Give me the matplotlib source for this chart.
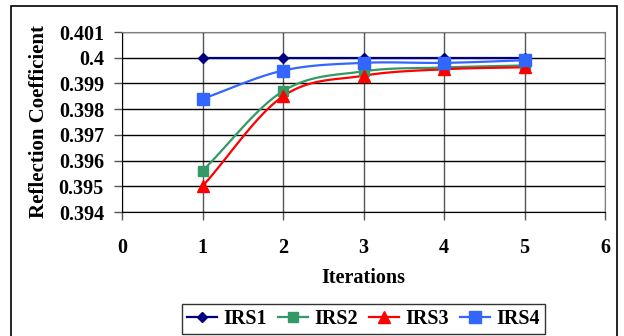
import numpy as np
import matplotlib.pyplot as plt
from matplotlib.patches import Rectangle

plt.rcParams['font.family'] = ['Liberation Serif', 'DejaVu Serif']
plt.rcParams['font.weight'] = 'bold'

iterations = [1, 2, 3, 4, 5]
irs1 = [0.4000, 0.4000, 0.4000, 0.4000, 0.4000]
irs2 = [0.3956, 0.3987, 0.39947, 0.39962, 0.39970]
irs3 = [0.3950, 0.3985, 0.39930, 0.39955, 0.39963]
irs4 = [0.3984, 0.3995, 0.39980, 0.39980, 0.39990]

series_names = ['IRS1', 'IRS2', 'IRS3', 'IRS4']
colors = ['#000080', '#339966', '#FF0000', '#3366FF']
markers = ['D', 's', '^', 's']
msizes = [5, 7, 9, 9]


def smooth(x, y, n=30):
    # Catmull-Rom curve through the points, like a smoothed line chart
    x = np.asarray(x, float)
    y = np.asarray(y, float)
    px = np.concatenate([[2 * x[0] - x[1]], x, [2 * x[-1] - x[-2]]])
    py = np.concatenate([[2 * y[0] - y[1]], y, [2 * y[-1] - y[-2]]])
    xs, ys = [], []
    t = np.linspace(0, 1, n)
    for i in range(1, len(px) - 2):
        for p, out in ((px, xs), (py, ys)):
            p0, p1, p2, p3 = p[i - 1], p[i], p[i + 1], p[i + 2]
            out.extend(0.5 * (2 * p1 + (-p0 + p2) * t
                              + (2 * p0 - 5 * p1 + 4 * p2 - p3) * t ** 2
                              + (-p0 + 3 * p1 - 3 * p2 + p3) * t ** 3))
    return xs, ys


fig = plt.figure(figsize=(6.24, 3.36), dpi=100)
ax = fig.add_axes([122 / 624, 1 - 212 / 336, (605 - 122) / 624, (212 - 32) / 336])

for name, ys, c, m, ms in zip(series_names, [irs1, irs2, irs3, irs4], colors, markers, msizes):
    sx, sy = smooth(iterations, ys)
    ax.plot(sx, sy, color=c, lw=1.6, zorder=3)
    ax.plot(iterations, ys, ls='none', marker=m, color=c, ms=ms, zorder=4)
    ax.plot([], [], color=c, lw=1.6, marker=m, ms=ms, label=name)

ax.set_xlim(0, 6)
ax.set_ylim(0.394, 0.401)
ax.set_xticks(range(7))
ax.set_yticks(np.arange(0.394, 0.4011, 0.001))
ax.set_yticklabels(['0.394', '0.395', '0.396', '0.397', '0.398', '0.399', '0.4', '0.401'])
ax.grid(True, color='#000000', lw=1)
ax.xaxis.grid(True, color='#555555')
ax.set_axisbelow(True)
for s in ax.spines.values():
    s.set_color('#808080')
ax.spines['left'].set_color('#000000')
ax.spines['bottom'].set_color('#000000')
ax.tick_params(axis='both', labelsize=14.5, length=6, width=1, color='#555555')
ax.tick_params(axis='y', length=6, pad=7)
ax.tick_params(axis='x', pad=13)

ax.set_xlabel('Iterations', fontsize=14.5, fontweight='bold', labelpad=7)
ax.set_ylabel('Reflection Coefficient', fontsize=15, fontweight='bold', labelpad=7)

leg = ax.legend(loc='upper center', bbox_to_anchor=(0.5, -0.455), ncol=4, fontsize=14.5,
                frameon=True, fancybox=False, edgecolor='#000000', handlelength=1.5,
                handletextpad=0.3, columnspacing=0.55, borderpad=0.25)
leg.get_frame().set_linewidth(1)

fig.patches.append(Rectangle((11 / 624, -0.1), (617 - 11) / 624, 1 - 6 / 336 + 0.1,
                             transform=fig.transFigure, fill=False, ec='#000000', lw=1.2))

fig.savefig('out.png', dpi=100)
